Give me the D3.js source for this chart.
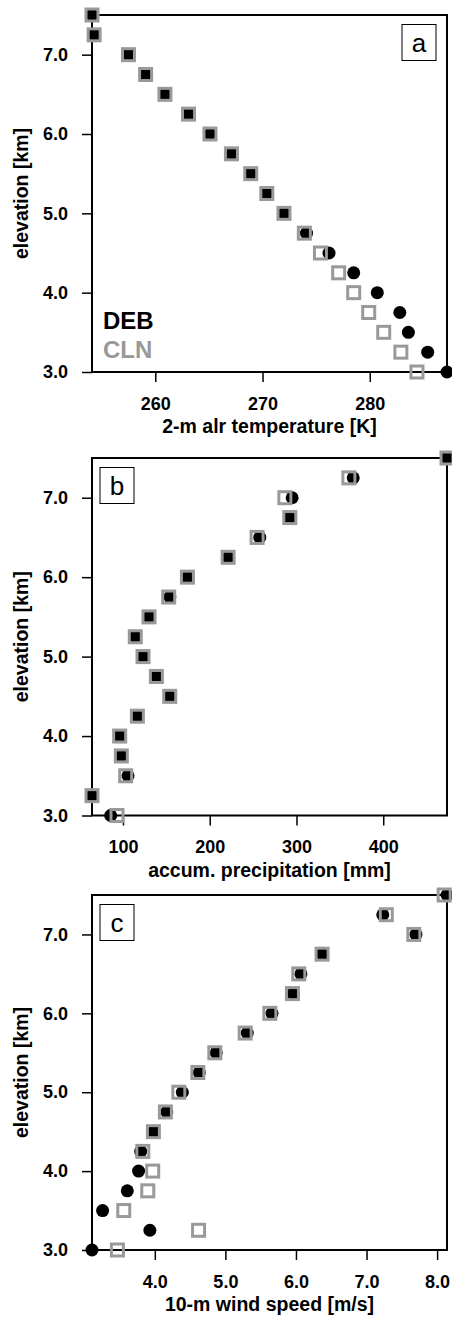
<!DOCTYPE html>
<html>
<head>
<meta charset="utf-8">
<script src="https://cdn.jsdelivr.net/npm/d3@7"></script>
<style>
    body { margin: 0; background: #fff; }
    svg { display: block; font-family: 'Liberation Sans', Arial, Helvetica, sans-serif; }
</style>
</head>
<body>
<svg id="chart"></svg>
<script>
// Elevation levels (km), shared by all panels
const elevations = [3.0, 3.25, 3.5, 3.75, 4.0, 4.25, 4.5, 4.75, 5.0, 5.25, 5.5, 5.75, 6.0, 6.25, 6.5, 6.75, 7.0, 7.25, 7.5];

// a: 2-m air temperature [K]
const tempDEB = [287.2, 285.4, 283.6, 282.8, 280.7, 278.5, 276.2, 274.1, 272.0, 270.4, 268.9, 267.1, 265.1, 263.1, 260.9, 259.1, 257.5, 254.3, 254.1];
const tempCLN = [284.4, 282.9, 281.3, 279.9, 278.5, 277.1, 275.4, 273.9, 272.0, 270.4, 268.9, 267.1, 265.1, 263.1, 260.9, 259.1, 257.5, 254.3, 254.1];

// b: accumulated precipitation [mm]
const precipDEB = [85.8, 64.3, 105.8, 98.1, 96.2, 116.6, 153.9, 138.5, 123.1, 114.2, 130.0, 154.0, 174.3, 221.2, 257.7, 292.3, 295.0, 365.4, 473.5];
const precipCLN = [93.1, 64.3, 103.1, 98.1, 96.2, 116.6, 153.9, 138.5, 123.1, 114.2, 130.0, 152.7, 174.3, 221.2, 254.6, 292.3, 286.6, 360.4, 473.5];

// c: 10-m wind speed [m/s]
const windDEB = [3.11, 3.93, 3.26, 3.61, 3.77, 3.80, 3.98, 4.17, 4.39, 4.63, 4.87, 5.31, 5.66, 5.96, 6.07, 6.37, 7.70, 7.23, 8.14];
const windCLN = [3.47, 4.62, 3.56, 3.90, 3.97, 3.83, 3.98, 4.15, 4.34, 4.61, 4.85, 5.28, 5.63, 5.95, 6.04, 6.37, 7.67, 7.28, 8.10];

// Tick values
const elevTicks = [3.0, 4.0, 5.0, 6.0, 7.0];
const tempTicks = [260, 270, 280];
const precipTicks = [100, 200, 300, 400];
const windTicks = [4.0, 5.0, 6.0, 7.0, 8.0];

const seriesNames = ['DEB', 'CLN'];
const debColor = '#000000';
const clnColor = '#999999';

class ProfilePanel {
    constructor(_config, _deb, _cln) {
        this.config = {
            parentElement: _config.parentElement,
            top: _config.top,
            bottom: _config.bottom,
            left: 92,
            right: 447,
            xTicks: _config.xTicks,
            xFormat: _config.xFormat,
            xLabel: _config.xLabel,
            letter: _config.letter,
            letterSide: _config.letterSide,
            legend: _config.legend || false
        }

        this.deb = _deb;
        this.cln = _cln;

        this.initVis();
        this.renderVis();
    }

    initVis() {
        let vis = this;

        vis.width = vis.config.right - vis.config.left;
        vis.height = vis.config.bottom - vis.config.top;

        // x domain runs exactly over the data range
        vis.xScale = d3.scaleLinear()
            .domain(d3.extent(vis.deb.concat(vis.cln)))
            .range([0, vis.width]);

        vis.yScale = d3.scaleLinear()
            .domain([3.0, 7.5])
            .range([vis.height, 0]);

        vis.chart = d3.select(vis.config.parentElement).append('g')
            .attr('transform', `translate(${vis.config.left}, ${vis.config.top})`);

        // Create axes groups
        vis.xAxisGroup = vis.chart.append('g')
            .attr('class', 'x-axis')
            .attr('transform', `translate(0, ${vis.height})`);

        vis.yAxisGroup = vis.chart.append('g')
            .attr('class', 'y-axis');

        // Frame around the plot area
        vis.chart.append('rect')
            .attr('width', vis.width)
            .attr('height', vis.height)
            .attr('fill', 'none')
            .attr('stroke', '#000')
            .attr('stroke-width', 2);

        // Axis labels
        vis.chart.append('text')
            .attr('x', vis.width / 2)
            .attr('y', vis.height + 61)
            .attr('text-anchor', 'middle')
            .style('font-size', '19.5px')
            .style('font-weight', 'bold')
            .text(vis.config.xLabel);

        vis.chart.append('text')
            .attr('transform', `translate(${28 - vis.config.left}, ${vis.height / 2}) rotate(-90)`)
            .attr('text-anchor', 'middle')
            .style('font-size', '19.5px')
            .style('font-weight', 'bold')
            .text('elevation [km]');
    }

    renderVis() {
        let vis = this;

        let xAxis = d3.axisBottom(vis.xScale)
            .tickValues(vis.config.xTicks)
            .tickFormat(vis.config.xFormat)
            .tickSize(10)
            .tickPadding(15);

        let yAxis = d3.axisLeft(vis.yScale)
            .tickValues(elevTicks)
            .tickFormat(d3.format('.1f'))
            .tickSize(10)
            .tickPadding(14);

        vis.xAxisGroup.call(xAxis);
        vis.yAxisGroup.call(yAxis);

        [vis.xAxisGroup, vis.yAxisGroup].forEach(g => {
            g.select('.domain').remove();
            g.selectAll('line').attr('stroke', '#000').attr('stroke-width', 1.5);
            g.selectAll('text')
                .attr('fill', '#000')
                .style('font-family', "'Liberation Sans', Arial, Helvetica, sans-serif")
                .style('font-size', '18px')
                .style('font-weight', 'bold');
        });

        // DEB: filled black circles (drawn first)
        vis.chart.selectAll('.deb')
            .data(vis.deb)
            .join('circle')
            .attr('class', 'deb')
            .attr('cx', d => vis.xScale(d))
            .attr('cy', (d, i) => vis.yScale(elevations[i]))
            .attr('r', 6.5)
            .attr('fill', debColor);

        // CLN: open grey squares on top
        const s = 12;
        vis.chart.selectAll('.cln')
            .data(vis.cln)
            .join('rect')
            .attr('class', 'cln')
            .attr('x', d => vis.xScale(d) - s / 2)
            .attr('y', (d, i) => vis.yScale(elevations[i]) - s / 2)
            .attr('width', s)
            .attr('height', s)
            .attr('fill', 'none')
            .attr('stroke', clnColor)
            .attr('stroke-width', 3);

        // Panel letter box
        const bw = 34, bh = 36;
        const bx = vis.config.letterSide === 'right' ? vis.width - 11 - bw : 8;
        const by = 9.5;
        let letterBox = vis.chart.append('g')
            .attr('transform', `translate(${bx}, ${by})`);
        letterBox.append('rect')
            .attr('width', bw)
            .attr('height', bh)
            .attr('fill', '#fff')
            .attr('stroke', '#000')
            .attr('stroke-width', 1);
        letterBox.append('text')
            .attr('x', bw / 2)
            .attr('y', bh / 2)
            .attr('dy', '0.35em')
            .attr('text-anchor', 'middle')
            .style('font-size', '26px')
            .text(vis.config.letter);

        // Legend
        if (vis.config.legend) {
            vis.chart.selectAll('.legend-text')
                .data(seriesNames)
                .join('text')
                .attr('class', 'legend-text')
                .attr('x', 11)
                .attr('y', (d, i) => vis.height - 43 + i * 29)
                .attr('fill', (d, i) => i === 0 ? debColor : clnColor)
                .style('font-size', '24px')
                .style('font-weight', 'bold')
                .text(d => d);
        }
    }
}

d3.select('#chart')
    .attr('width', 452)
    .attr('height', 1318);

new ProfilePanel({
    parentElement: '#chart', top: 15, bottom: 372,
    xTicks: tempTicks, xFormat: d3.format('d'),
    xLabel: '2-m alr temperature [K]', letter: 'a', letterSide: 'right', legend: true
}, tempDEB, tempCLN);

new ProfilePanel({
    parentElement: '#chart', top: 458, bottom: 815.5,
    xTicks: precipTicks, xFormat: d3.format('d'),
    xLabel: 'accum. precipitation [mm]', letter: 'b', letterSide: 'left'
}, precipDEB, precipCLN);

new ProfilePanel({
    parentElement: '#chart', top: 895, bottom: 1250,
    xTicks: windTicks, xFormat: d3.format('.1f'),
    xLabel: '10-m wind speed [m/s]', letter: 'c', letterSide: 'left'
}, windDEB, windCLN);
</script>
</body>
</html>
